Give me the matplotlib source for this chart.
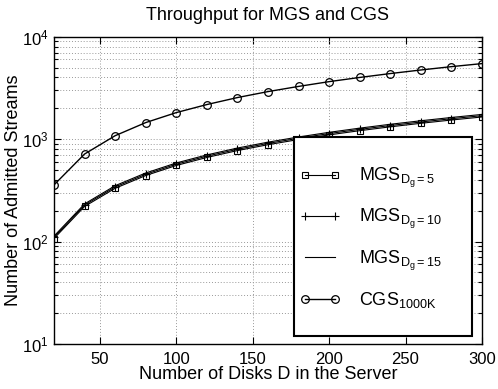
import matplotlib
matplotlib.use("Agg")
import matplotlib.pyplot as plt
from matplotlib.patches import Rectangle
from matplotlib.ticker import LogLocator, NullFormatter

plt.rcParams['font.family'] = ['Liberation Sans', 'DejaVu Sans']
plt.rcParams['mathtext.fontset'] = 'custom'
plt.rcParams['mathtext.rm'] = 'Liberation Sans'
plt.rcParams['mathtext.it'] = 'Liberation Sans:italic'
plt.rcParams['mathtext.bf'] = 'Liberation Sans:bold'

disks = [20, 40, 60, 80, 100, 120, 140, 160, 180, 200, 220, 240, 260, 280, 300]
mgs_dg5 = [107, 220, 331, 441, 553, 662, 773, 882, 991, 1100, 1209, 1318, 1427, 1536, 1645]
mgs_dg10 = [110, 227, 341, 454, 569, 682, 795, 908, 1020, 1133, 1245, 1357, 1469, 1582, 1694]
mgs_dg15 = [113, 233, 351, 467, 585, 701, 818, 934, 1049, 1165, 1280, 1396, 1511, 1627, 1742]
cgs_1000k = [357, 715, 1080, 1450, 1815, 2175, 2545, 2910, 3270, 3640, 4000, 4365, 4730, 5100, 5460]
xticks = [50, 100, 150, 200, 250, 300]

fig = plt.figure(figsize=(4.98, 3.89), dpi=100)
ax = fig.add_axes([0.1084, 0.1157, 0.8594, 0.790])

l1, = ax.plot(disks, mgs_dg5, color='black', lw=0.8, marker='s', ms=4.5, mfc='none', mew=0.8)
l2, = ax.plot(disks, mgs_dg10, color='black', lw=0.8, marker='+', ms=6, mew=0.8)
l3, = ax.plot(disks, mgs_dg15, color='black', lw=0.8)
l4, = ax.plot(disks, cgs_1000k, color='black', lw=1.0, marker='o', ms=5.5, mfc='none', mew=0.9)

ax.set_yscale('log')
ax.set_xlim(20, 300)
ax.set_ylim(10, 1e4)
ax.set_xticks(xticks)
ax.yaxis.set_major_locator(LogLocator(base=10, numticks=10))
ax.yaxis.set_minor_locator(LogLocator(base=10, subs=range(2, 10), numticks=100))
ax.yaxis.set_minor_formatter(NullFormatter())

ax.grid(True, which='major', axis='x', color='#999999', linestyle=(0, (1, 2)), lw=0.7)
ax.grid(True, which='both', axis='y', color='#999999', linestyle=(0, (1, 2)), lw=0.7)
ax.tick_params(which='both', direction='in', top=True, right=True, labelsize=12, width=0.8, color='black')
ax.tick_params(which='major', length=5)
ax.tick_params(which='minor', length=3)
ax.tick_params(axis='x', pad=6)
ax.tick_params(axis='y', pad=4)
for s in ax.spines.values():
    s.set_linewidth(1.0)

ax.set_title('Throughput for MGS and CGS', fontsize=13, pad=12)
ax.set_xlabel('Number of Disks D in the Server', fontsize=13, labelpad=-1)
ax.set_ylabel('Number of Admitted Streams', fontsize=13, labelpad=0)

rect = Rectangle((0.561, 0.026), 0.416, 0.648, transform=ax.transAxes,
                 facecolor='white', edgecolor='black', lw=1.5, zorder=5)
ax.add_patch(rect)
labels = [r'MGS$_{\mathrm{D_g=5}}$', r'MGS$_{\mathrm{D_g=10}}$',
          r'MGS$_{\mathrm{D_g=15}}$', r'CGS$_{\mathrm{1000K}}$']
leg = ax.legend([l1, l2, l3, l4], labels, loc='center left',
                bbox_to_anchor=(0.552, 0.345), frameon=False, fontsize=13,
                borderpad=0, numpoints=2, handlelength=2.3, handletextpad=1.0,
                labelspacing=0.95)
leg.set_zorder(6)

fig.savefig('out.png', dpi=100)
